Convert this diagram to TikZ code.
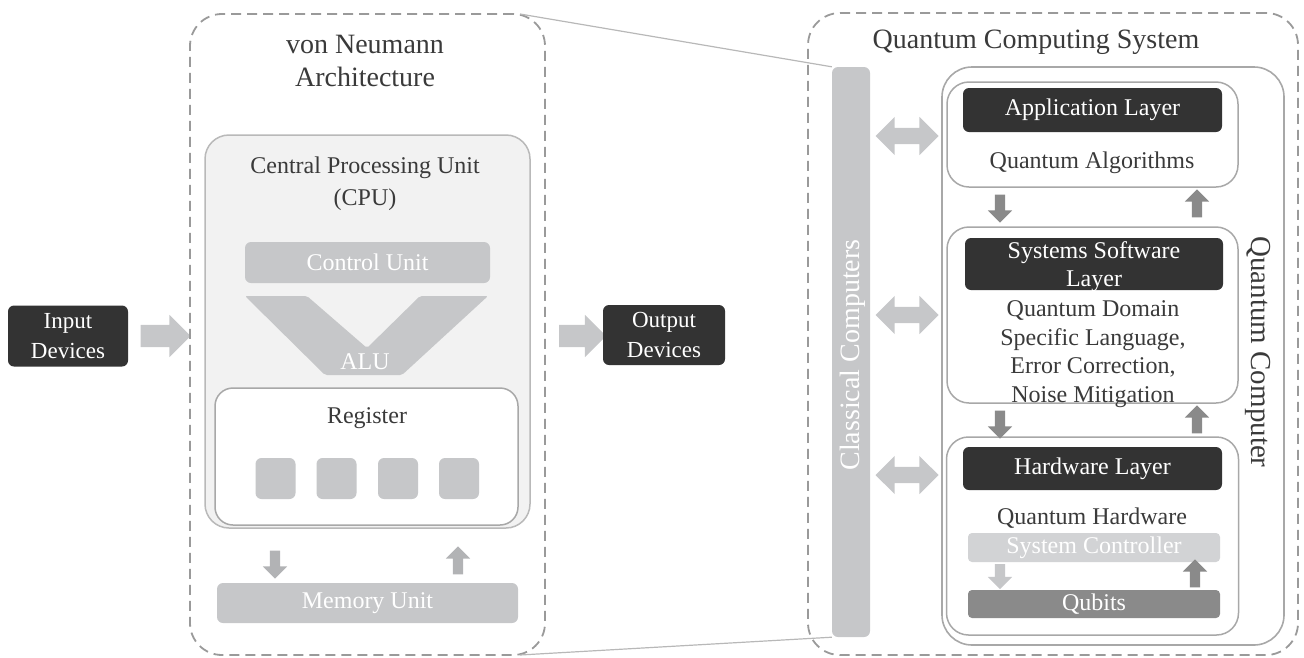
\documentclass[tikz,border=0pt]{standalone}
\usepackage{fontspec}
\IfFontExistsTF{LiberationSerif-Regular.ttf}{\setmainfont{LiberationSerif-Regular.ttf}}{\setmainfont{Liberation Serif}}
\usetikzlibrary{shapes.arrows}
\definecolor{inkgrey}{HTML}{3A3A3A}
\definecolor{darkfill}{HTML}{333333}
\definecolor{lightfill}{HTML}{C6C7C9}
\definecolor{paleback}{HTML}{F2F2F2}
\definecolor{edgegrey}{HTML}{A8A8A8}
\definecolor{dashgrey}{HTML}{9A9A9A}
\definecolor{midgrey}{HTML}{8A8A8A}
\definecolor{ctrlfill}{HTML}{D2D3D5}

\begin{document}
\begin{tikzpicture}[x=1pt,y=-1pt,text=inkgrey,font=\fontsize{24}{29}\selectfont]
      \tikzstyle{dashbox}=[draw=dashgrey,line width=1.8pt,dash pattern=on 10pt off 6pt,rounded corners=32pt]
      \tikzstyle{darkbox}=[fill=darkfill,rounded corners=6pt,text=white,align=center,inner sep=0pt]
      \tikzstyle{greybar}=[fill=lightfill,rounded corners=6pt,text=white,inner sep=0pt]
      \tikzstyle{layerbox}=[draw=edgegrey,line width=1.5pt,fill=white,rounded corners=22pt]
      \tikzstyle{fatarrow}=[single arrow,fill=lightfill,inner xsep=0pt,inner ysep=11pt,single arrow head extend=10pt,minimum width=42pt,minimum height=50pt]
      \tikzstyle{twoarrow}=[double arrow,fill=lightfill,inner xsep=0pt,inner ysep=8pt,double arrow head extend=11pt,minimum width=38pt,minimum height=63pt]
      \tikzstyle{slimarrow}=[single arrow,inner xsep=0pt,inner ysep=5pt,single arrow head extend=7pt,minimum width=24pt,minimum height=28pt]
      \useasboundingbox (0,0) rectangle (1304,657);

      % von Neumann side
      \node[darkbox,minimum width=120,minimum height=61,font=\fontsize{23}{30}\selectfont] (in) at (68,336) {Input\\Devices};
      \node[fatarrow] (inarr) at (160,336) {};
      \node[dashbox,minimum width=355,minimum height=641] (vn) at (367.5,334.5) {};
      \node[align=center,font=\fontsize{28}{33}\selectfont] (vntitle) at (365,61) {von Neumann\\Architecture};
      \node[draw=edgegrey!80,line width=1.5pt,fill=paleback,rounded corners=24pt,minimum width=325,minimum height=393] (cpu) at (367.5,331.5) {};
      \node[align=center,font=\fontsize{24}{32}\selectfont] (cputitle) at (365,184) {Central Processing Unit\\(CPU)};
      \node[greybar,minimum width=245,minimum height=41] (cu) at (367.5,262.5) {Control Unit};
      \fill[lightfill,rounded corners=2pt] (245,296) -- (307,296) -- (367,348) -- (420,296) -- (488,296) -- (402,375) -- (325,375) -- cycle;
      \node[text=white] (alu) at (365,362) {ALU};
      \node[layerbox,rounded corners=18pt,minimum width=303,minimum height=137] (reg) at (366.5,456.5) {};
      \node (regtitle) at (367,418) {Register};
      \foreach \i/\x in {1/275.5,2/336.5,3/398,4/459}
        \node[greybar,minimum width=40,minimum height=41] (cell\i) at (\x,478.5) {};
      \node[slimarrow,fill=lightfill!90!black,rotate=-90] (memdown) at (275,562) {};
      \node[slimarrow,fill=lightfill!90!black,rotate=90] (memup) at (458,563) {};
      \node[greybar,minimum width=301,minimum height=40] (mem) at (367.5,603) {Memory Unit};
      \node[fatarrow,minimum height=47pt] (outarr) at (577,336) {};
      \node[darkbox,minimum width=122,minimum height=60,font=\fontsize{23}{30}\selectfont] (out) at (664,335) {Output\\Devices};

      % quantum side
      \node[dashbox,minimum width=490,minimum height=642] (qcs) at (1053,334) {};
      \node[font=\fontsize{28}{33}\selectfont] (qcstitle) at (1036,42) {Quantum Computing System};
      \node[greybar,minimum width=38,minimum height=570] (cc) at (851,352) {};
      \node[text=white,rotate=90,font=\fontsize{28}{33}\selectfont] (cctext) at (853,355) {Classical Computers};
      \coordinate (vntop) at (520,14);
      \coordinate (vnbot) at (520,655);
      \draw[dashgrey!70,line width=1.2pt] (vntop) -- (cc.north west);
      \draw[dashgrey!70,line width=1.2pt] (vnbot) -- (cc.south west);
      \node[draw=edgegrey,line width=1.6pt,rounded corners=30pt,minimum width=342,minimum height=578] (qc) at (1113,356) {};
      \node[rotate=-90,font=\fontsize{29}{33}\selectfont] (qctext) at (1258,352) {Quantum Computer};

      \node[layerbox,minimum width=291,minimum height=105] (app) at (1092.5,134.5) {};
      \node[darkbox,minimum width=259,minimum height=44] (appbar) at (1092.5,110) {Application Layer};
      \node (apptext) at (1092,163) {Quantum Algorithms};

      \node[layerbox,minimum width=291,minimum height=176] (sys) at (1092.5,315) {};
      \node[darkbox,minimum width=258,minimum height=52] (sysbar) at (1094,264) {};
      \node[text=white,align=center,font=\fontsize{24}{28}\selectfont] (sysbartext) at (1094,267) {Systems Software\\Layer};
      \node[align=center,font=\fontsize{24}{28.5}\selectfont] (systext) at (1093,354) {Quantum Domain\\Specific Language,\\Error Correction,\\Noise Mitigation};

      \node[layerbox,minimum width=292,minimum height=198] (hw) at (1092.5,536) {};
      \node[darkbox,minimum width=259,minimum height=43] (hwbar) at (1092.5,468.5) {Hardware Layer};
      \node (hwtext) at (1092,518) {Quantum Hardware};
      \node[greybar,fill=ctrlfill,rounded corners=4pt,minimum width=252,minimum height=29] (ctrl) at (1094,547.5) {System Controller};
      \node[greybar,fill=midgrey,rounded corners=4pt,minimum width=252,minimum height=28] (qb) at (1094,604) {Qubits};
      \node[slimarrow,fill=lightfill,minimum height=25pt,rotate=-90] (ctrldown) at (1000,574) {};
      \node[slimarrow,fill=midgrey,rotate=90] (ctrlup) at (1195,576) {};

      \foreach \y/\n in {206/a,422/b}{
        \node[slimarrow,fill=midgrey,rotate=-90] (down\n) at (1000,\y) {};
        \node[slimarrow,fill=midgrey,rotate=90] (up\n) at (1197,\y) {};
      }
      \foreach \y/\n in {136/app,315/sys,475/hw}
        \node[twoarrow] (link\n) at (907,\y) {};
    \end{tikzpicture}
\end{document}
